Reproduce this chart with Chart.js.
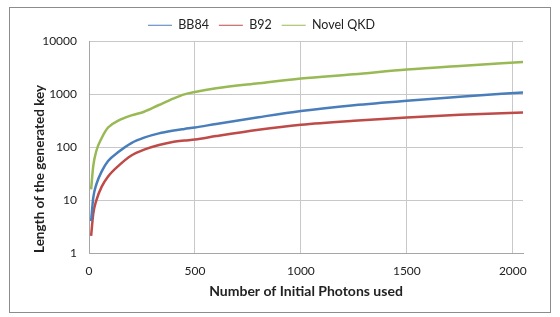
<!DOCTYPE html>
<html>
<head>
<meta charset="utf-8">
<script src="https://cdn.jsdelivr.net/npm/chart.js@4.4.1/dist/chart.umd.min.js"></script>
<style>
    html, body { margin: 0; padding: 0; background: #ffffff; }
    #frame { position: absolute; left: 9px; top: 7px; width: 540px; height: 304px; border: 1px solid #8c8c8c; }
    #wrap { position: absolute; left: 0; top: 0; width: 560px; height: 317px; }
</style>
</head>
<body>
<div id="frame"></div>
<div id="wrap"><canvas id="myChart" width="560" height="317"></canvas></div>
<script>
var photons = [10, 20, 35, 60, 90, 140, 200, 260, 330, 400, 450, 500, 600, 800, 1000, 1250, 1500, 1750, 2048];
var bb84 = [4, 11, 20, 35, 55, 82, 120, 152, 183, 207, 222, 237, 276, 370, 485, 625, 760, 900, 1090];
var b92 = [2.1, 5.5, 10, 18, 28, 45, 70, 90, 110, 127, 134, 140, 163, 215, 267, 318, 365, 410, 456];
var novelQkd = [16, 44, 86, 150, 236, 321, 400, 470, 630, 840, 1000, 1110, 1300, 1620, 1990, 2400, 2950, 3450, 4080];
var yTicks = [1, 10, 100, 1000, 10000];
var xTicks = [0, 500, 1000, 1500, 2000];

function toPoints(values) {
    return photons.map(function (p, i) { return { x: p, y: values[i] }; });
}

var font = 'Lato';

var ctx = document.getElementById('myChart').getContext('2d');
var myChart = new Chart(ctx, {
    type: 'line',
    data: {
        datasets: [
            { label: 'BB84', data: toPoints(bb84), borderColor: '#4a7ebb', backgroundColor: '#4a7ebb' },
            { label: 'B92', data: toPoints(b92), borderColor: '#be4b48', backgroundColor: '#be4b48' },
            { label: 'Novel QKD', data: toPoints(novelQkd), borderColor: '#98b954', backgroundColor: '#98b954' }
        ]
    },
    options: {
        responsive: false,
        animation: false,
        layout: { padding: { top: 9, right: 37, bottom: 0, left: 0 } },
        elements: {
            point: { radius: 0 },
            line: { borderWidth: 2.5, tension: 0.4, cubicInterpolationMode: 'monotone' }
        },
        plugins: {
            tooltip: { enabled: false },
            legend: {
                position: 'top',
                labels: {
                    usePointStyle: true,
                    pointStyle: 'line',
                    pointStyleWidth: 24,
                    padding: 10,
                    color: '#222222',
                    font: { family: font, size: 12.5 }
                }
            }
        },
        scales: {
            x: {
                type: 'linear',
                min: 0,
                max: 2048,
                afterBuildTicks: function (axis) {
                    axis.ticks = xTicks.map(function (v) { return { value: v }; });
                },
                afterFit: function (axis) { axis.height = 64; },
                ticks: {
                    padding: 11,
                    color: '#222222',
                    font: { family: font, size: 12 },
                    callback: function (v) { return String(v); }
                },
                grid: { color: '#c8c8c8', drawTicks: false },
                border: { color: '#a6a6a6' },
                title: {
                    display: true,
                    text: 'Number of Initial Photons used',
                    color: '#222222',
                    font: { family: font, size: 14, weight: 'bold' },
                    padding: { top: 0, bottom: 17.5 }
                }
            },
            y: {
                type: 'logarithmic',
                min: 1,
                max: 10000,
                afterBuildTicks: function (axis) {
                    axis.ticks = yTicks.map(function (v) { return { value: v }; });
                },
                afterFit: function (axis) { axis.width = 89; },
                ticks: {
                    padding: 12,
                    color: '#222222',
                    font: { family: font, size: 12 },
                    callback: function (v) { return String(v); }
                },
                grid: { color: '#c8c8c8', drawTicks: false },
                border: { color: '#a6a6a6' },
                title: {
                    display: true,
                    text: 'Length of the generated key',
                    align: 'start',
                    color: '#222222',
                    font: { family: font, size: 13.5, weight: 'bold' },
                    padding: { top: 32, bottom: 0 }
                }
            }
        }
    }
});
</script>
</body>
</html>
